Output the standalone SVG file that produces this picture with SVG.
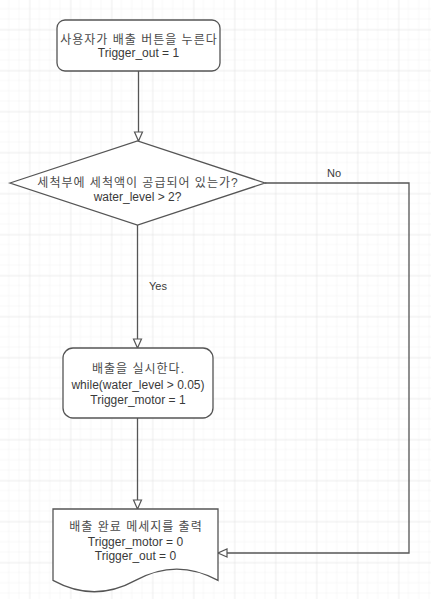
<svg xmlns="http://www.w3.org/2000/svg" width="431" height="599" viewBox="0 0 431 599">
<defs>
  <pattern id="minor" width="10.25" height="10.25" patternUnits="userSpaceOnUse" x="-0.75" y="-0.75">
    <path d="M0,0 H10.25 M0,0 V10.25" stroke="#f2f2f2" stroke-width="1" fill="none"/>
  </pattern>
  <pattern id="major" width="41" height="41" patternUnits="userSpaceOnUse" x="-11.5" y="-11.5">
    <rect width="41" height="41" fill="url(#minor)"/>
    <path d="M0,0 H41 M0,0 V41" stroke="#e4e4e4" stroke-width="1" fill="none"/>
  </pattern>
  <marker id="arr" markerWidth="12" markerHeight="12" refX="10" refY="5" orient="auto" markerUnits="userSpaceOnUse">
    <path d="M1,1 L10,5 L1,9 Z" fill="#ffffff" stroke="#555555" stroke-width="1.2"/>
  </marker>
  <style>
    .shape { fill: #ffffff; stroke: #555555; stroke-width: 1.3; }
    .edge { fill: none; stroke: #555555; stroke-width: 1.3; }
    text { font-family: "Liberation Sans", Arial, "Noto Sans CJK KR", sans-serif; font-size: 12px; fill: #3a3a3a; text-anchor: middle; }
    .ko { letter-spacing: 1px; fill: #4a4a4a; }
    .lbl { font-size: 11px; }
  </style>
</defs>
<rect width="431" height="599" fill="#ffffff"/>
<rect width="431" height="599" fill="url(#major)"/>

<g id="connectors">
  <path class="edge" d="M138.5,71 V141" marker-end="url(#arr)"/>
  <path class="edge" d="M137.5,225 V348" marker-end="url(#arr)"/>
  <path class="edge" d="M137.5,418 V509" marker-end="url(#arr)"/>
  <path class="edge" d="M265,183 H409 V553 H218" marker-end="url(#arr)"/>
  <text class="lbl" x="158" y="290">Yes</text>
  <text class="lbl" x="334" y="177">No</text>
</g>

<g id="start">
  <rect class="shape" x="57" y="20" width="163" height="51" rx="8" ry="8"/>
  <text class="ko" x="139" y="44">사용자가 배출 버튼을 누른다</text>
  <text x="138.5" y="57">Trigger_out = 1</text>
</g>

<g id="decision">
  <polygon class="shape" points="10,183 137.5,141 265,183 137.5,225"/>
  <text class="ko" x="138" y="187">세척부에 세척액이 공급되어 있는가?</text>
  <text x="137.5" y="201">water_level &gt; 2?</text>
</g>

<g id="process">
  <rect class="shape" x="63" y="348" width="150" height="70" rx="10" ry="10"/>
  <text class="ko" x="138.5" y="373">배출을 실시한다.</text>
  <text x="138" y="389">while(water_level &gt; 0.05)</text>
  <text x="138" y="404">Trigger_motor = 1</text>
</g>

<g id="output">
  <path class="shape" d="M53,509 H218 V580.4 Q176.75,557.7 135.5,580.4 Q94.25,603.1 53,580.4 Z"/>
  <text class="ko" x="136" y="531">배출 완료 메세지를 출력</text>
  <text x="135.5" y="546">Trigger_motor = 0</text>
  <text x="135.5" y="560">Trigger_out = 0</text>
</g>
</svg>
